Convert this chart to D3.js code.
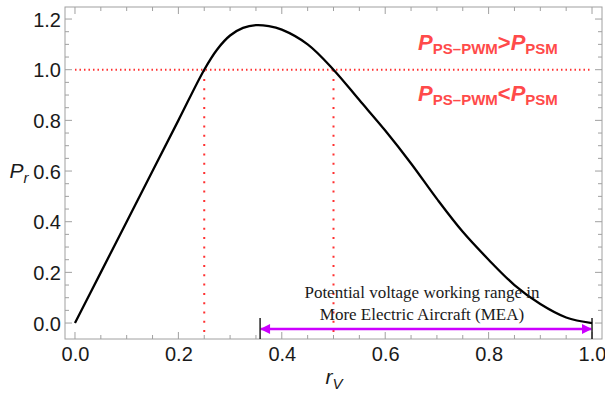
<!DOCTYPE html>
<html><head><meta charset="utf-8">
<script src="https://cdn.jsdelivr.net/npm/d3@7"></script>
<style>body{margin:0;background:#fff}svg{display:block}</style>
</head><body>
<svg id="c" width="605" height="394"></svg>
<script>
const rV = [0, 0.05, 0.1, 0.15, 0.2, 0.25, 0.275, 0.3, 0.325, 0.35, 0.375, 0.4, 0.45, 0.5, 0.55, 0.6, 0.65, 0.7, 0.75, 0.8, 0.85, 0.9, 0.95, 1.0];
const Pr = [0, 0.2, 0.4, 0.6, 0.8, 1.0, 1.08, 1.135, 1.165, 1.176, 1.172, 1.158, 1.10, 1.0, 0.88, 0.76, 0.63, 0.49, 0.36, 0.25, 0.15, 0.075, 0.022, 0];
const xTicks = [0, 0.2, 0.4, 0.6, 0.8, 1.0];
const yTicks = [0, 0.2, 0.4, 0.6, 0.8, 1.0, 1.2];
const threshold = 1.0;
const crossings = [0.25, 0.5];
const rangeStart = 0.358, rangeEnd = 1.0;

const svg = d3.select("#c");
const L = 65, R = 602, T = 7, B = 339;
const x = d3.scaleLinear().domain([-0.0193, 1.0193]).range([L, R]);
const y = d3.scaleLinear().domain([-0.063, 1.2475]).range([B, T]);
const frameCol = "#a0a0a0";

const xMinor = d3.range(0, 1.0001, 0.05);
const yMinor = d3.range(0, 1.2001, 0.05);
const g = svg.append("g");
function isMajor(v){ return Math.abs(v*5 - Math.round(v*5)) < 1e-6; }
xMinor.forEach(v => {
  const len = isMajor(v) ? 7 : 4;
  g.append("line").attr("x1", x(v)).attr("x2", x(v)).attr("y1", B).attr("y2", B - len).attr("stroke", frameCol);
  g.append("line").attr("x1", x(v)).attr("x2", x(v)).attr("y1", T).attr("y2", T + len).attr("stroke", frameCol);
});
yMinor.forEach(v => {
  const len = isMajor(v) ? 7 : 4;
  g.append("line").attr("x1", L).attr("x2", L + len).attr("y1", y(v)).attr("y2", y(v)).attr("stroke", frameCol);
  g.append("line").attr("x1", R).attr("x2", R - len).attr("y1", y(v)).attr("y2", y(v)).attr("stroke", frameCol);
});
svg.append("rect").attr("x", L).attr("y", T).attr("width", R - L).attr("height", B - T)
  .attr("fill", "none").attr("stroke", frameCol).attr("stroke-width", 1);

const xAxis = svg.append("g").attr("transform", `translate(0,${B})`)
  .call(d3.axisBottom(x).tickValues(xTicks).tickFormat(d3.format(".1f")).tickSize(0).tickPadding(7));
const yAxis = svg.append("g").attr("transform", `translate(${L},0)`)
  .call(d3.axisLeft(y).tickValues(yTicks).tickFormat(d3.format(".1f")).tickSize(0).tickPadding(4));
[xAxis, yAxis].forEach(a => {
  a.select(".domain").remove();
  a.selectAll("text").attr("font-family", "Liberation Sans, Arial, sans-serif")
    .attr("font-size", 20).attr("fill", "#1a1a1a");
});
yAxis.selectAll("text").attr("dy", "0.36em");
xAxis.selectAll("text").attr("dy", "0.75em");

const red = "#ff3030";
svg.append("line").attr("x1", x(0)).attr("x2", x(1)).attr("y1", y(threshold)).attr("y2", y(threshold))
  .attr("stroke", red).attr("stroke-width", 2).attr("stroke-dasharray", "1.5,3");
crossings.forEach(c => {
  svg.append("line").attr("x1", x(c)).attr("x2", x(c)).attr("y1", y(threshold)).attr("y2", B - 1)
    .attr("stroke", red).attr("stroke-width", 2).attr("stroke-dasharray", "2,7.3");
});

const data = rV.map((r, i) => [r, Pr[i]]);
svg.append("path").datum(data)
  .attr("d", d3.line().x(d => x(d[0])).y(d => y(d[1])).curve(d3.curveCatmullRom.alpha(0.5)))
  .attr("fill", "none").attr("stroke", "#000").attr("stroke-width", 2.3);

const txtCol = "#ff4a4a";
function regionLabel(yy, op) {
  const t = svg.append("text").attr("x", 488).attr("y", yy).attr("text-anchor", "middle")
    .attr("font-family", "Liberation Sans, Arial, sans-serif").attr("font-weight", "bold").attr("fill", txtCol);
  t.append("tspan").attr("font-style", "italic").attr("font-size", 22).text("P");
  t.append("tspan").attr("font-size", 15).attr("dy", 4).text("PS\u2013PWM");
  t.append("tspan").attr("font-size", 22).attr("dy", -4).text(op);
  t.append("tspan").attr("font-style", "italic").attr("font-size", 22).text("P");
  t.append("tspan").attr("font-size", 15).attr("dy", 4).text("PSM");
}
regionLabel(50, ">");
regionLabel(101, "<");

const yl = svg.append("text").attr("x", 19).attr("y", 178).attr("text-anchor", "middle")
  .attr("font-family", "Liberation Sans, Arial, sans-serif").attr("fill", "#1a1a1a");
yl.append("tspan").attr("font-style", "italic").attr("font-size", 21).text("P");
yl.append("tspan").attr("font-style", "italic").attr("font-size", 15).attr("dy", 5).text("r");
const xl = svg.append("text").attr("x", 334).attr("y", 384).attr("text-anchor", "middle")
  .attr("font-family", "Liberation Sans, Arial, sans-serif").attr("fill", "#1a1a1a");
xl.append("tspan").attr("font-style", "italic").attr("font-size", 21).text("r");
xl.append("tspan").attr("font-style", "italic").attr("font-size", 15).attr("dy", 5).text("V");

const mag = "#cc00ff";
const defs = svg.append("defs");
defs.append("marker").attr("id", "ah").attr("viewBox", "0 0 10 10").attr("refX", 9).attr("refY", 5)
  .attr("markerWidth", 5).attr("markerHeight", 4).attr("orient", "auto-start-reverse")
  .attr("markerUnits", "strokeWidth")
  .append("path").attr("d", "M0,0 L10,5 L0,10 Z").attr("fill", mag);
const ay = 329;
svg.append("line").attr("x1", x(rangeStart) + 1).attr("x2", x(rangeEnd) - 1).attr("y1", ay).attr("y2", ay)
  .attr("stroke", mag).attr("stroke-width", 2.5)
  .attr("marker-start", "url(#ah)").attr("marker-end", "url(#ah)");
[rangeStart, rangeEnd].forEach(v => {
  svg.append("line").attr("x1", x(v)).attr("x2", x(v)).attr("y1", 318).attr("y2", 339)
    .attr("stroke", "#000").attr("stroke-width", 1.3);
});
const ann = svg.append("text").attr("text-anchor", "middle")
  .attr("font-family", "Liberation Serif, Times New Roman, serif").attr("font-size", 17).attr("fill", "#1a1a1a");
ann.append("tspan").attr("x", 422).attr("y", 298).text("Potential voltage working range in");
ann.append("tspan").attr("x", 422).attr("y", 320).text("More Electric Aircraft (MEA)");
</script>
</body></html>
